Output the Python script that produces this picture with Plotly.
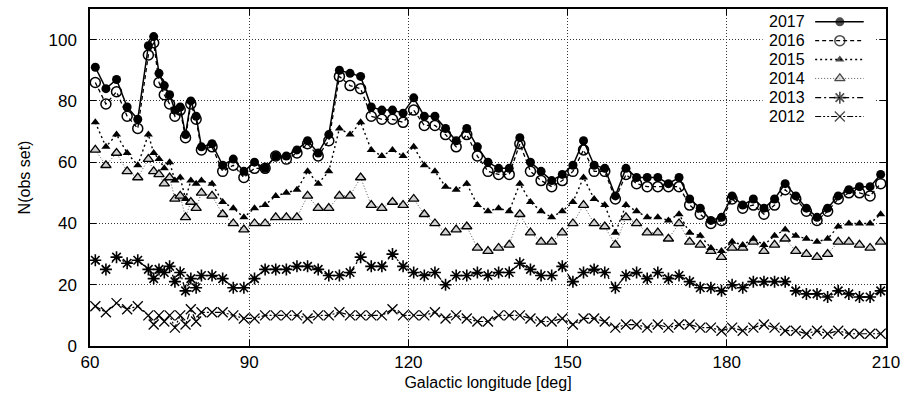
import plotly.graph_objects as go

# ---------------- data ----------------
lon = [61, 63, 65, 67, 69, 71, 72, 73, 74, 75, 76, 77, 78, 79, 80, 81,
       83, 85, 87, 89, 91, 93, 95, 97, 99, 101, 103, 105, 107, 109, 111, 113,
       115, 117, 119, 121, 123, 125, 127, 129, 131, 133, 135, 137, 139, 141, 143, 145,
       147, 149, 151, 153, 155, 157, 159, 161, 163, 165, 167, 169, 171, 173, 175, 177,
       179, 181, 183, 185, 187, 189, 191, 193, 195, 197, 199, 201, 203, 205, 207, 209]

n2017 = [91, 84, 87, 78, 74, 98, 101, 89, 85, 82, 77, 78, 69, 80, 75, 65,
         66, 59, 61, 57, 60, 58, 62, 62, 64, 67, 63, 69, 90, 89, 88, 78,
         77, 77, 76, 81, 75, 75, 71, 67, 71, 65, 60, 58, 58, 68, 60, 57,
         54, 56, 59, 67, 59, 58, 49, 58, 55, 55, 55, 53, 55, 48, 45, 41,
         42, 49, 46, 48, 45, 48, 53, 49, 45, 42, 45, 49, 51, 52, 52, 56]

n2016 = [86, 79, 83, 75, 71, 95, 99, 86, 82, 79, 75, 77, 68, 79, 74, 64,
         65, 57, 59, 55, 58, 58, 62, 61, 63, 66, 62, 67, 88, 85, 84, 75,
         74, 74, 73, 77, 72, 72, 69, 65, 69, 62, 57, 56, 56, 66, 57, 54,
         52, 54, 57, 64, 57, 57, 48, 56, 53, 52, 52, 52, 52, 46, 43, 40,
         41, 48, 45, 46, 43, 46, 51, 48, 44, 41, 44, 48, 50, 50, 49, 53]

n2015 = [73, 65, 69, 63, 59, 69, 63, 61, 58, 60, 54, 55, 48, 54, 53, 54,
         53, 47, 45, 42, 45, 46, 49, 50, 51, 57, 53, 57, 71, 69, 73, 64,
         62, 64, 62, 65, 59, 57, 52, 51, 53, 46, 44, 45, 44, 53, 47, 44,
         42, 44, 47, 55, 48, 46, 37, 46, 44, 42, 42, 41, 43, 37, 36, 32,
         31, 34, 33, 35, 33, 36, 38, 36, 35, 34, 35, 39, 40, 40, 40, 43]

n2014 = [64, 59, 63, 57, 55, 61, 57, 56, 53, 55, 48, 49, 42, 47, 45, 50,
         49, 43, 40, 38, 40, 40, 42, 42, 42, 49, 45, 45, 49, 49, 55, 46,
         45, 47, 46, 48, 43, 40, 37, 38, 39, 32, 31, 32, 33, 43, 37, 34,
         34, 37, 40, 46, 40, 39, 33, 42, 40, 37, 37, 35, 40, 34, 33, 31,
         29, 32, 32, 34, 31, 33, 35, 31, 30, 29, 30, 34, 34, 33, 32, 34]

n2013 = [28, 25, 29, 27, 28, 25, 22, 25, 24, 26, 21, 24, 18, 22, 19, 23,
         23, 22, 19, 19, 22, 25, 25, 25, 26, 26, 25, 23, 23, 24, 29, 26,
         26, 30, 26, 24, 23, 24, 20, 23, 23, 24, 23, 24, 24, 27, 25, 23,
         23, 26, 21, 24, 25, 24, 19, 23, 24, 22, 24, 22, 23, 21, 19, 19,
         18, 20, 19, 21, 21, 21, 21, 18, 17, 17, 16, 18, 17, 16, 16, 18]

n2012 = [13, 11, 14, 12, 13, 10, 7, 10, 8, 10, 6, 10, 7, 12, 8, 11,
         11, 11, 10, 9, 9, 10, 10, 10, 10, 9, 10, 10, 11, 10, 10, 10,
         10, 12, 10, 10, 10, 11, 9, 10, 9, 8, 8, 10, 10, 10, 9, 8,
         8, 9, 7, 9, 9, 8, 6, 7, 7, 6, 7, 6, 7, 7, 6, 6,
         5, 6, 5, 6, 7, 6, 5, 5, 4, 5, 4, 5, 4, 4, 4, 4]

series_names = ["2017", "2016", "2015", "2014", "2013", "2012"]
series_vals = [n2017, n2016, n2015, n2014, n2013, n2012]

x_ticks = [60, 90, 120, 150, 180, 210]
y_ticks = [0, 20, 40, 60, 80, 100]

# ---------------- styles ----------------
FONT = "Liberation Sans, Arial, sans-serif"
styles = {
    "2017": dict(dash="solid", lw=1.5, lc="black",
                 sym="circle", ms=9, mc="black", mlc="black", mlw=0),
    "2016": dict(dash="4px,3px", lw=1.3, lc="black",
                 sym="circle-open", ms=10, mc="black", mlc="black", mlw=1.5),
    "2015": dict(dash="2px,3px", lw=1.4, lc="black",
                 sym="triangle-up", ms=8, mc="black", mlc="black", mlw=0),
    "2014": dict(dash="1px,2px", lw=1.0, lc="#555555",
                 sym="triangle-up", ms=9, mc="#d0d0d0", mlc="black", mlw=1.3),
    "2013": dict(dash="6px,3px,2px,3px", lw=1.3, lc="black",
                 sym="asterisk-open", ms=10, mc="black", mlc="black", mlw=1.6),
    "2012": dict(dash="6px,2px,2px,2px,2px,2px", lw=1.2, lc="black",
                 sym="x-thin-open", ms=10, mc="black", mlc="black", mlw=1.3),
}

fig = go.Figure()

for name, vals in zip(series_names[::-1], series_vals[::-1]):
    s = styles[name]
    fig.add_trace(go.Scatter(
        x=lon, y=vals, mode="lines+markers", name=name, showlegend=False,
        line=dict(color=s["lc"], width=s["lw"], dash=s["dash"]),
        marker=dict(symbol=s["sym"], size=s["ms"], color=s["mc"],
                    line=dict(color=s["mlc"], width=s["mlw"])),
    ))

# ---------------- custom legend (text left, sample right) ----------------
leg_rows = [0.962, 0.906, 0.850, 0.794, 0.737, 0.681]
leg_x = [0.911, 0.942, 0.972]
leg_text_x = 0.900
leg_box_x = [0.845, 0.986, 0.986, 0.845, 0.845]
leg_box_y = [0.652, 0.652, 0.992, 0.992, 0.652]

# white legend background (hides the grid behind the key)
fig.add_trace(go.Scatter(
    x=leg_box_x, y=leg_box_y, xaxis="x2", yaxis="y2", mode="lines",
    fill="toself", fillcolor="white", line=dict(width=0, color="white"),
    showlegend=False, hoverinfo="skip"))

for name, yy in zip(series_names, leg_rows):
    s = styles[name]
    fig.add_trace(go.Scatter(
        x=leg_x, y=[yy, yy, yy], xaxis="x2", yaxis="y2",
        mode="lines+markers", showlegend=False, hoverinfo="skip",
        line=dict(color=s["lc"], width=s["lw"], dash=s["dash"]),
        marker=dict(symbol=s["sym"], size=[0, s["ms"], 0], color=s["mc"],
                    line=dict(color=s["mlc"], width=s["mlw"])),
    ))
    fig.add_annotation(x=leg_text_x, y=yy, xref="x domain", yref="y domain",
                       text=name, showarrow=False, xanchor="right",
                       yanchor="middle", borderpad=0,
                       font=dict(family=FONT, size=16, color="black"))

axis_common = dict(
    showline=True, linecolor="black", linewidth=1.5, mirror="allticks",
    ticks="inside", ticklen=6, tickwidth=1.2, tickcolor="black",
    showgrid=True, gridcolor="#333333", gridwidth=1, griddash="1px,2px",
    zeroline=False, tickfont=dict(family=FONT, size=17, color="black"),
)

fig.update_layout(
    width=907, height=402,
    margin=dict(l=90, r=18, t=7, b=56),
    paper_bgcolor="white", plot_bgcolor="white",
    showlegend=False,
    xaxis=dict(range=[60, 210], tickvals=x_ticks, ticklabelstandoff=0,
               title=dict(text="Galactic longitude [deg]", standoff=6,
                          font=dict(family=FONT, size=16, color="black")),
               **axis_common),
    yaxis=dict(range=[0, 110], tickvals=y_ticks, ticklabelstandoff=8,
               title=dict(text="N(obs set)", standoff=14,
                          font=dict(family=FONT, size=16, color="black")),
               **axis_common),
    xaxis2=dict(overlaying="x", range=[0, 1], visible=False, fixedrange=True),
    yaxis2=dict(overlaying="y", range=[0, 1], visible=False, fixedrange=True),
)

fig.write_html("out.html", config={"displayModeBar": False},
               post_script="document.body.style.margin='0px';")
